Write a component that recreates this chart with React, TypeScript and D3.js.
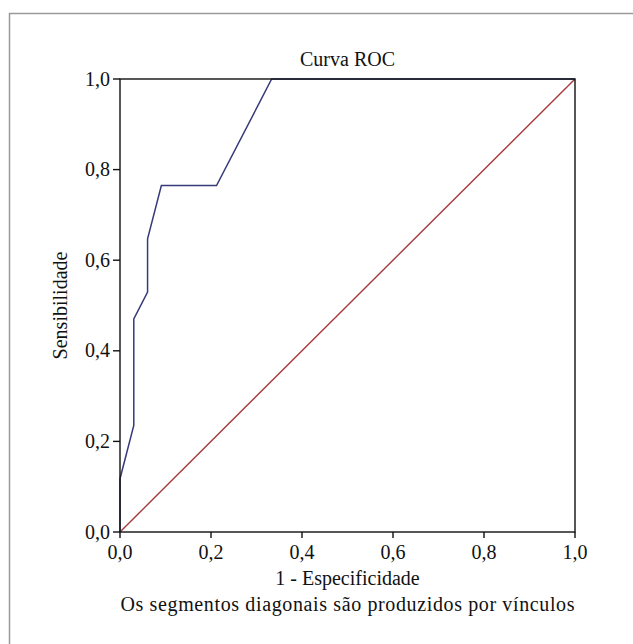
import React from "react";
import * as d3 from "d3";

// ROC curve points (1 - specificity, sensitivity)
const fpr = [0, 0, 1 / 33, 1 / 33, 2 / 33, 2 / 33, 3 / 33, 7 / 33, 11 / 33, 1];
const tpr = [0, 2 / 17, 4 / 17, 8 / 17, 9 / 17, 11 / 17, 13 / 17, 13 / 17, 1, 1];
const refLine = [0, 1];
const ticks = [0, 0.2, 0.4, 0.6, 0.8, 1.0];

const W = 633;
const H = 644;
const left = 120;
const right = 575;
const top = 79;
const bottom = 532;
const font = "'Liberation Serif', 'Times New Roman', serif";

export default function App() {
  const x = d3.scaleLinear().domain([0, 1]).range([left, right]);
  const y = d3.scaleLinear().domain([0, 1]).range([bottom, top]);
  const fmt = (v: number) => v.toFixed(1).replace(".", ",");

  const line = d3
    .line<number>()
    .x((_, i) => x(fpr[i]))
    .y((d) => y(d));
  const refPath = d3
    .line<number>()
    .x((d) => x(d))
    .y((d) => y(d))(refLine);

  return (
    <svg
      width={W}
      height={H}
      style={{ position: "absolute", left: 0, top: 0, background: "#fff" }}
      fontFamily={font}
    >
      <rect x={9.5} y={13.5} width={W + 20} height={H + 20} fill="none" stroke="#9a9a9a" strokeWidth={1.5} />
      <text x={(left + right) / 2} y={66} textAnchor="middle" fontSize={20} fill="#111">
        Curva ROC
      </text>

      <path d={refPath ?? ""} fill="none" stroke="#a8383a" strokeWidth={1.4} />
      <path d={line(tpr) ?? ""} fill="none" stroke="#363a7a" strokeWidth={1.5} />

      <rect x={left} y={top} width={right - left} height={bottom - top} fill="none" stroke="#111" strokeWidth={1.4} />

      {ticks.map((t) => (
        <g key={"y" + t}>
          <line x1={left - 7} x2={left} y1={y(t)} y2={y(t)} stroke="#111" strokeWidth={1.4} />
          <text x={left - 10} y={y(t)} dy="0.33em" textAnchor="end" fontSize={20} fill="#111">
            {fmt(t)}
          </text>
        </g>
      ))}
      {ticks.map((t) => (
        <g key={"x" + t}>
          <line x1={x(t)} x2={x(t)} y1={bottom} y2={bottom + 6} stroke="#111" strokeWidth={1.4} />
          <text x={x(t)} y={559} textAnchor="middle" fontSize={20} fill="#111">
            {fmt(t)}
          </text>
        </g>
      ))}

      <text x={(left + right) / 2} y={585} textAnchor="middle" fontSize={20} fill="#111">
        1 - Especificidade
      </text>
      <text x={(left + right) / 2} y={611} textAnchor="middle" fontSize={20} fill="#111" textLength={454} lengthAdjust="spacing">
        Os segmentos diagonais são produzidos por vínculos
      </text>
      <text
        transform={`translate(67, ${(top + bottom) / 2}) rotate(-90)`}
        textAnchor="middle"
        fontSize={20}
        fill="#111"
      >
        Sensibilidade
      </text>
    </svg>
  );
}
